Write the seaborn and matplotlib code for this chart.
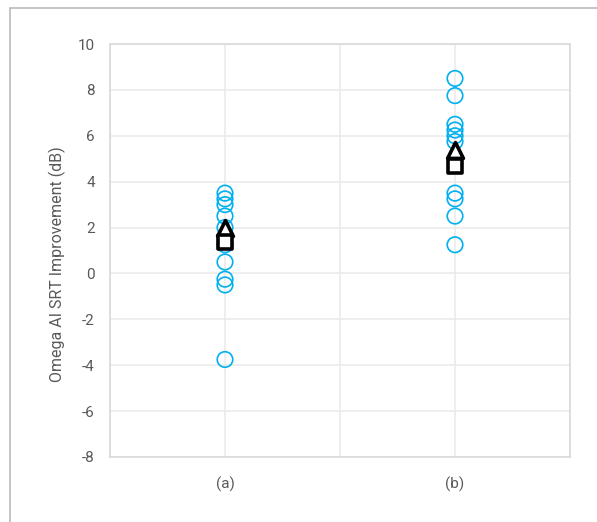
import matplotlib
matplotlib.use("Agg")
import matplotlib.pyplot as plt
import seaborn as sns
import pandas as pd
from matplotlib.patches import Rectangle

# Per-listener SRT improvement values for each condition
categories = ["(a)", "(b)"]
cat_pos = [0.5, 1.5]
values_a = [3.5, 3.25, 3.0, 2.5, 2.0, 1.25, 0.5, -0.25, -0.5, -3.75]
values_b = [8.5, 7.75, 6.5, 6.25, 6.0, 5.75, 3.5, 3.25, 2.5, 1.25]
# Summary markers
triangle_vals = [2.0, 5.4]
square_vals = [1.35, 4.7]
y_ticks = [-8, -6, -4, -2, 0, 2, 4, 6, 8, 10]

sns.set_theme(style="white")
plt.rcParams["font.family"] = ["Roboto", "DejaVu Sans"]
plt.rcParams["axes.unicode_minus"] = False

text_color = "#595959"
grid_color = "#ebebeb"

points = pd.DataFrame({
    "x": [cat_pos[0]] * len(values_a) + [cat_pos[1]] * len(values_b),
    "y": values_a + values_b,
})
summary = pd.DataFrame({"x": cat_pos, "tri": triangle_vals, "sq": square_vals})

fig = plt.figure(figsize=(5.97, 5.22), dpi=100)
ax = fig.add_axes([110 / 597, 1 - 457 / 522, 460 / 597, 413 / 522])

sns.scatterplot(data=points, x="x", y="y", ax=ax, marker="o", s=125,
                facecolor="none", edgecolor="#00b0f0", linewidth=1.2,
                zorder=3, legend=False)
sns.scatterplot(data=summary, x="x", y="tri", ax=ax, marker="^", s=130,
                facecolor="white", edgecolor="black", linewidth=2.6,
                zorder=4, legend=False)
sns.scatterplot(data=summary, x="x", y="sq", ax=ax, marker="s", s=100,
                facecolor="white", edgecolor="black", linewidth=2.6,
                zorder=5, legend=False)

ax.set_xlim(0, 2)
ax.set_ylim(-8, 10)
ax.set_xticks([0, 0.5, 1, 1.5, 2])
ax.set_xticklabels(["", categories[0], "", categories[1], ""])
ax.set_yticks(y_ticks)
ax.set_yticklabels([str(t) for t in y_ticks])
ax.grid(True, color=grid_color, linewidth=1.2, zorder=0)
ax.set_axisbelow(True)
ax.tick_params(axis="both", length=0, colors=text_color, labelsize=11)
ax.tick_params(axis="y", pad=11)
ax.tick_params(axis="x", pad=14)
for sp in ax.spines.values():
    sp.set_color("#d9d9d9")
    sp.set_linewidth(1.2)
ax.set_xlabel("")
ax.set_ylabel("Omega AI SRT Improvement (dB)", color=text_color, fontsize=11.5)
ax.yaxis.set_label_coords(-0.095, 0.467)

# Outer chart frame
fig.patches.append(Rectangle((10 / 597, -0.2), 1.2, 1.2 - 8 / 522,
                             transform=fig.transFigure, fill=False,
                             edgecolor="#bfbfbf", linewidth=1.3, clip_on=False))

fig.savefig("out.png", dpi=100)
